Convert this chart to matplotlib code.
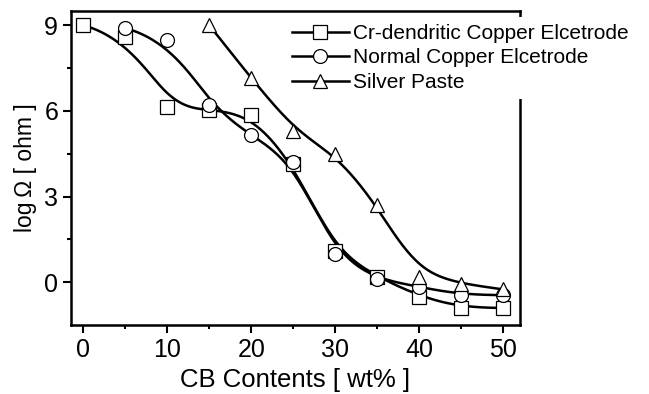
import numpy as np
import matplotlib
matplotlib.use("Agg")
from matplotlib import pyplot as plt

plt.rcParams['font.family'] = ['Liberation Sans', 'DejaVu Sans']

# CB contents (wt%)
cb_cr = [0, 5, 10, 15, 20, 25, 30, 35, 40, 45, 50]
log_cr = [9.0, 8.6, 6.15, 6.05, 5.85, 4.15, 1.1, 0.2, -0.5, -0.9, -0.9]

cb_normal = [5, 10, 15, 20, 25, 30, 35, 40, 45, 50]
log_normal = [8.9, 8.5, 6.2, 5.15, 4.2, 1.0, 0.1, -0.15, -0.45, -0.45]

cb_silver = [15, 20, 25, 30, 35, 40, 45, 50]
log_silver = [9.0, 7.15, 5.3, 4.5, 2.7, 0.2, -0.05, -0.25]

labels = ['Cr-dendritic Copper Elcetrode', 'Normal Copper Elcetrode', 'Silver Paste']


def bspline(xv, yv, num=400, k=3):
    # clamped cubic B-spline using the data points as control points
    P = np.column_stack([xv, yv]).astype(float)
    n = len(P)
    inner = np.arange(1, n - k)
    knots = np.concatenate([np.zeros(k + 1), inner, np.full(k + 1, n - k)]).astype(float)
    u = np.linspace(0, n - k, num)
    u[-1] -= 1e-9
    N = np.array([((knots[i] <= u) & (u < knots[i + 1])).astype(float) for i in range(len(knots) - 1)])
    for d in range(1, k + 1):
        Nn = np.zeros((len(knots) - 1 - d, num))
        for i in range(len(knots) - 1 - d):
            a = knots[i + d] - knots[i]
            b = knots[i + d + 1] - knots[i + 1]
            t1 = (u - knots[i]) / a * N[i] if a > 0 else 0
            t2 = (knots[i + d + 1] - u) / b * N[i + 1] if b > 0 else 0
            Nn[i] = t1 + t2
        N = Nn
    C = N.T @ P
    return C[:, 0], C[:, 1]


fig = plt.figure(figsize=(6.49, 3.94), dpi=100)
ax = fig.add_axes([0.109, 0.175, 0.692, 0.797])

series = [(cb_cr, log_cr, 's'), (cb_normal, log_normal, 'o'), (cb_silver, log_silver, '^')]
for (xv, yv, mk), lab in zip(series, labels):
    cx, cy = bspline(xv, yv)
    ax.plot(cx, cy, color='black', lw=1.8, zorder=2)
    ax.plot(xv, yv, linestyle='none', marker=mk, ms=10, mfc='white', mec='black', mew=0.9, zorder=3)
    ax.plot([], [], color='black', lw=1.8, marker=mk, ms=10, mfc='white', mec='black', mew=0.9, label=lab)

ax.set_xlim(-1.5, 52)
ax.set_ylim(-1.5, 9.5)
ax.set_xticks([0, 10, 20, 30, 40, 50])
ax.set_xticks(np.arange(5, 50, 10), minor=True)
ax.set_yticks([0, 3, 6, 9])
ax.set_yticks([1.5, 4.5, 7.5], minor=True)
ax.tick_params(which='both', direction='out', width=1.5, labelsize=18)
ax.tick_params(which='major', length=6, pad=3)
ax.tick_params(which='minor', length=3)
for s in ax.spines.values():
    s.set_linewidth(1.8)

ax.set_xlabel('CB Contents [ wt% ]', fontsize=18.5, labelpad=5)
ax.set_ylabel('log\u2009\u03a9 [ ohm ]', fontsize=16.5, labelpad=5)

leg = ax.legend(loc='upper left', bbox_to_anchor=(0.422, 0.984), bbox_transform=fig.transFigure,
                frameon=True, fontsize=15, handlelength=2.75, handletextpad=0.2,
                labelspacing=0.26, borderpad=0.35, fancybox=False)
leg.get_frame().set_edgecolor('none')
leg.get_frame().set_facecolor('white')
leg.get_frame().set_alpha(1)
leg.set_zorder(10)

fig.savefig('out.png', dpi=100)
